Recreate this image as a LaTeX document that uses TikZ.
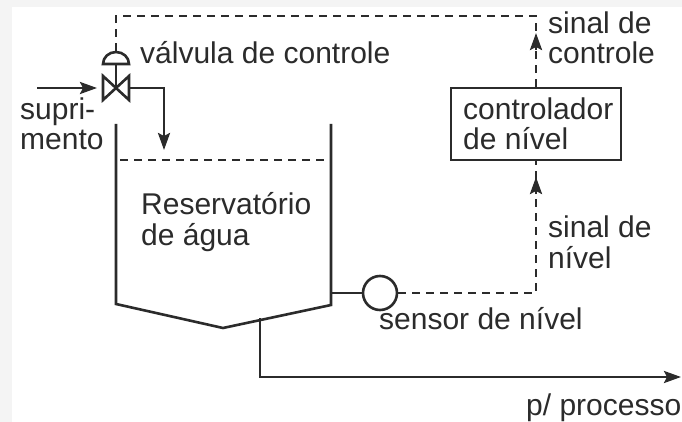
\documentclass[tikz,border=0pt]{standalone}
\usepackage{fontspec}
\setmainfont{Liberation Sans}
\usetikzlibrary{arrows.meta}
\usetikzlibrary{positioning}
\definecolor{inkgray}{HTML}{2B2B2B}
\definecolor{edgegray}{HTML}{F4F4F4}
\tikzset{
    pipe/.style = {draw=inkgray, line width=2.6pt},
    sig/.style = {draw=inkgray, line width=2.6pt, dash pattern=on 8pt off 6pt},
    lbl/.style = {inner sep=0pt, anchor=base west, align=left, text=inkgray,
                 font=\fontsize{30}{30.5}\selectfont},
    ctrlbox/.style = {draw=inkgray, line width=2.6pt, minimum width=170pt, minimum height=72pt},
}
\begin{document}
\begin{tikzpicture}[x=1pt,y=-1pt,>={Stealth[length=17pt,width=12pt,inset=3pt]}]
\useasboundingbox (0,0) rectangle (682,422);
\fill[edgegray] (0,0) rectangle (682,422);
\fill[white] (12,7) rectangle (682,422);
\coordinate (sup) at (37,88);
\coordinate (vin) at (97,88);
\coordinate (valve) at (116,88);
\coordinate (vout) at (129,88);
\coordinate (fill) at (164,150);
\coordinate (act) at (116,64);
\coordinate (acttop) at (116,52);
\coordinate (corner) at (116,16);
\coordinate (tl) at (116,124);
\coordinate (bl) at (116,304);
\coordinate (apex) at (223,328);
\coordinate (br) at (331,305);
\coordinate (tr) at (331,124);
\coordinate (wl) at (120,160);
\coordinate (wr) at (331,160);
\coordinate (tap) at (331,293);
\coordinate (drain) at (260,318);
\coordinate (out) at (681,377);
\node (ctrl) [ctrlbox] at (536,124) {};
\node (sensor) [circle,draw=inkgray,line width=2.6pt,minimum size=34pt,inner sep=0pt] at (380,293) {};
\coordinate (tipa) at (536,33);
\coordinate (taila) at (536,50);
\coordinate (tipb) at (536,177);
\coordinate (tailb) at (536,194);
% valve and actuator
\draw[pipe,line join=miter] (103,76) -- (129,100) -- (129,76) -- (103,100) -- cycle;
\draw[pipe] (103,64) arc (180:360:13 and 12) -- cycle;
\draw[pipe] (act) -- (valve);
% pipes
\draw[pipe,->] (sup) -- (vin);
\draw[pipe,->] (vout) -| (fill);
\draw[pipe] (tl) -- (bl) -- (apex) -- (br) -- (tr);
\draw[sig] (wl) -- (wr);
\draw[pipe] (tap) -- (sensor);
\draw[pipe,->] (drain) |- (out);
% signals
\draw[sig] (sensor) -| (ctrl.south);
\draw[sig] (ctrl.north) |- (corner) -- (acttop);
\draw[pipe,->] (taila) -- (tipa);
\draw[pipe,->] (tailb) -- (tipb);
% labels
\node (lvalve) [lbl] at (140,64) {válvula de controle};
\node (lsup) [lbl] at (20,150) {supri-\\mento};
\node (ltank) [lbl] at (141,245) {Reservatório\\de água};
\node (lctrl) [lbl] at (463,150) {controlador\\de nível};
\node (lsigc) [lbl] at (548,64) {sinal de\\controle};
\node (lsign) [lbl] at (548,268) {sinal de\\nível};
\node (lsens) [lbl] at (379,329) {sensor de nível};
\node (lout) [lbl] at (526,415) {p/ processo};
\end{tikzpicture}
\end{document}
